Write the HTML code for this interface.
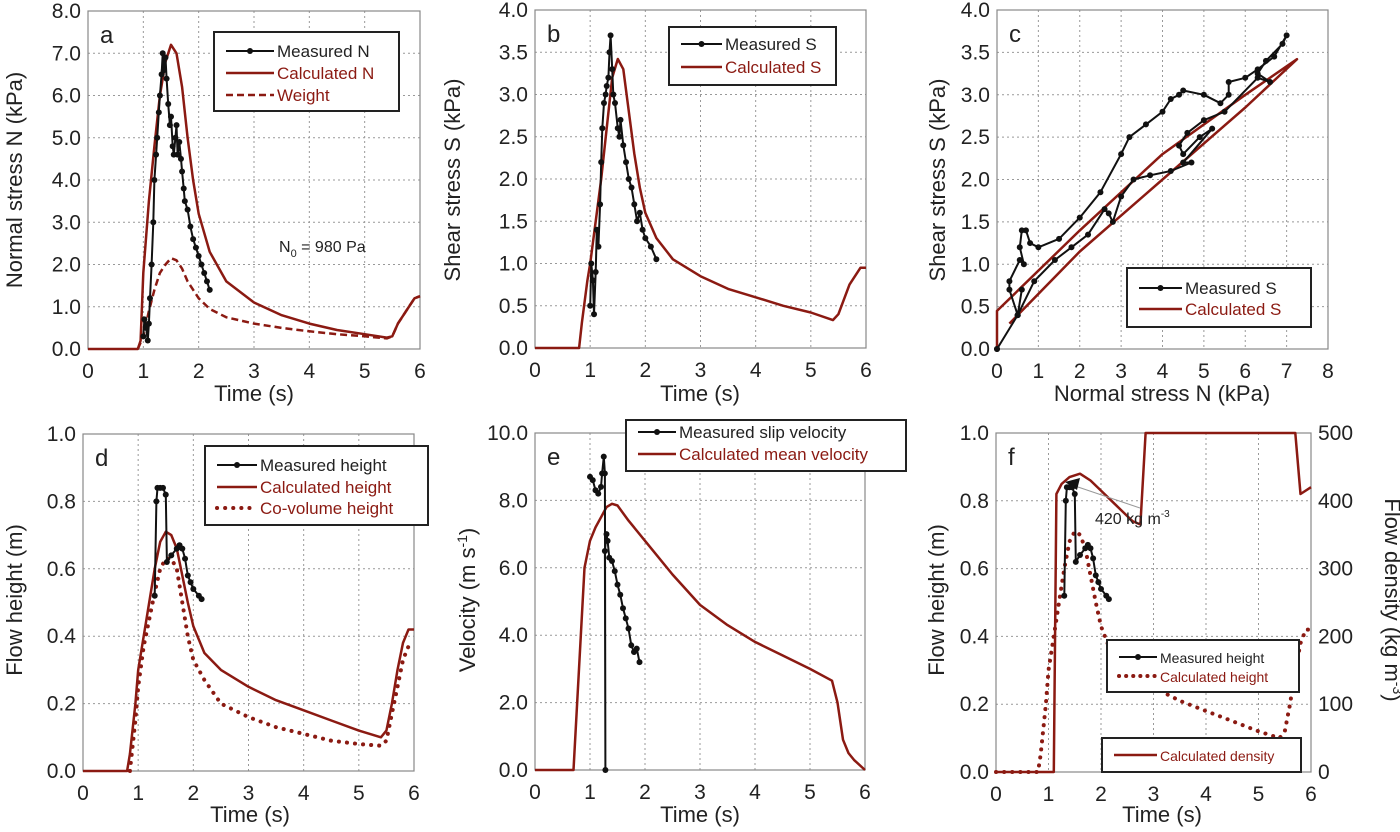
<!DOCTYPE html>
<html><head><meta charset="utf-8"><style>
body{margin:0;background:#fff;}
svg{display:block;font-family:"Liberation Sans",sans-serif;}
</style></head><body>
<svg id="fig" width="1400" height="832" viewBox="0 0 1400 832" xmlns="http://www.w3.org/2000/svg"></svg>
<script>
const RED='#8b1a12';
// ---- data ----
const aCalcT=[0,0.9,0.95,1.0,1.1,1.2,1.3,1.4,1.5,1.6,1.7,1.8,1.9,2.0,2.2,2.5,3.0,3.5,4.0,4.5,5.0,5.4,5.5,5.6,5.8,5.9,6.0];
const aCalcN=[0,0,0.2,1.8,3.5,4.8,6.0,6.8,7.2,7.0,6.2,5.0,4.0,3.2,2.3,1.6,1.1,0.8,0.6,0.45,0.35,0.27,0.3,0.6,1.0,1.2,1.25];
const aWT=[0.9,1.0,1.1,1.2,1.3,1.4,1.5,1.6,1.7,1.8,2.0,2.2,2.5,3.0,3.5,4.0,4.5,5.0,5.4,5.5,5.6,5.8,5.9,6.0];
const aW=[0,0.3,0.9,1.4,1.8,2.0,2.15,2.1,1.9,1.6,1.2,0.95,0.75,0.6,0.5,0.42,0.35,0.3,0.25,0.3,0.6,1.0,1.2,1.25];
const aMT=[1.0,1.02,1.05,1.08,1.1,1.12,1.15,1.18,1.2,1.23,1.25,1.28,1.3,1.33,1.35,1.37,1.4,1.42,1.45,1.48,1.5,1.53,1.55,1.58,1.6,1.62,1.65,1.68,1.7,1.73,1.75,1.8,1.85,1.9,1.95,2.0,2.05,2.1,2.15,2.2];
const aMN=[0.3,0.7,0.5,0.2,0.6,1.2,2.0,3.0,4.0,4.6,5.0,5.6,6.0,6.5,7.0,6.6,6.9,6.4,5.8,5.3,5.5,4.8,4.6,5.0,5.3,4.6,4.9,4.5,4.2,3.8,3.5,3.3,2.9,2.6,2.4,2.2,2.0,1.8,1.6,1.4];
const bCalcT=[0,0.8,0.85,0.95,1.0,1.1,1.2,1.3,1.4,1.5,1.6,1.7,1.8,1.9,2.0,2.2,2.5,3.0,3.5,4.0,4.5,5.0,5.4,5.5,5.7,5.9,6.0];
const bCalcS=[0,0,0.3,0.8,1.0,1.5,2.0,2.6,3.2,3.42,3.3,2.8,2.3,1.9,1.6,1.3,1.05,0.85,0.7,0.6,0.5,0.42,0.33,0.4,0.75,0.95,0.95];
const bMT=[1.0,1.02,1.05,1.07,1.1,1.12,1.15,1.18,1.2,1.22,1.25,1.28,1.3,1.33,1.35,1.37,1.4,1.42,1.45,1.5,1.53,1.55,1.6,1.65,1.7,1.75,1.8,1.85,1.9,1.95,2.0,2.1,2.2];
const bMS=[0.5,1.0,0.8,0.4,0.9,1.4,1.2,1.7,2.2,2.6,2.9,3.0,3.1,3.2,3.5,3.7,3.3,3.0,2.9,2.6,2.5,2.7,2.4,2.2,2.0,1.9,1.7,1.5,1.6,1.4,1.3,1.2,1.05];
const cCalcN=[0,0,2,4,6,7.25,6,4,2,0.3];
const cCalcS=[0,0.45,1.4,2.3,3.0,3.42,2.85,2.0,1.15,0.3];
const cMN=[0,0.5,0.6,0.5,0.3,0.3,0.55,0.65,0.55,0.6,0.7,0.8,1.0,1.5,2.0,2.5,3.0,3.2,3.6,4.0,4.2,4.4,4.5,5.0,5.4,5.6,5.6,6.0,6.3,6.7,7.0,6.9,6.5,6.3,6.6,6.3,5.5,5.0,4.6,4.4,4.5,4.9,5.2,4.5,4.7,4.2,3.7,3.3,3.0,2.8,2.7,2.6,2.2,1.8,1.4,0.9,0.5,0];
const cMS=[0,0.4,0.7,0.4,0.7,0.8,1.05,1.0,1.2,1.4,1.4,1.25,1.2,1.3,1.55,1.85,2.3,2.5,2.65,2.8,2.95,3.0,3.05,3.0,2.9,3.0,3.15,3.2,3.3,3.45,3.7,3.6,3.4,3.25,3.15,3.2,2.8,2.7,2.55,2.4,2.3,2.5,2.6,2.2,2.2,2.1,2.05,2.0,1.8,1.5,1.6,1.65,1.35,1.2,1.05,0.8,0.4,0];
const dCalcT=[0,0.8,0.85,0.95,1.0,1.1,1.2,1.3,1.4,1.5,1.6,1.7,1.8,1.9,2.0,2.2,2.5,3.0,3.5,4.0,4.5,5.0,5.4,5.5,5.6,5.7,5.8,5.9,6.0];
const dCalcH=[0,0,0.05,0.2,0.3,0.4,0.5,0.6,0.68,0.71,0.7,0.66,0.58,0.5,0.43,0.35,0.3,0.25,0.21,0.18,0.15,0.12,0.1,0.12,0.2,0.3,0.38,0.42,0.42];
const dCoT=[0.85,0.95,1.0,1.1,1.2,1.3,1.4,1.5,1.6,1.7,1.8,1.9,2.0,2.2,2.5,3.0,3.5,4.0,4.5,5.0,5.4,5.5,5.6,5.7,5.8,5.9];
const dCoH=[0,0.15,0.25,0.37,0.45,0.53,0.6,0.63,0.63,0.6,0.5,0.4,0.33,0.27,0.2,0.16,0.13,0.11,0.09,0.08,0.075,0.09,0.17,0.25,0.33,0.37];
const dMT=[1.3,1.33,1.35,1.4,1.45,1.5,1.52,1.6,1.7,1.75,1.8,1.85,1.9,1.95,2.0,2.1,2.15];
const dMH=[0.52,0.8,0.84,0.84,0.84,0.82,0.62,0.64,0.66,0.67,0.66,0.63,0.58,0.56,0.54,0.52,0.51];
const eCalcT=[0,0.7,0.8,0.9,1.0,1.1,1.2,1.3,1.4,1.5,1.7,2.0,2.5,3.0,3.5,4.0,4.5,5.0,5.4,5.5,5.6,5.7,5.8,6.0];
const eCalcV=[0,0,3.0,6.0,6.8,7.2,7.5,7.8,7.9,7.85,7.4,6.8,5.8,4.9,4.3,3.8,3.4,3.0,2.65,2.0,0.9,0.5,0.3,0];
const eMT=[1.0,1.05,1.1,1.15,1.2,1.22,1.25,1.27,1.28,1.27,1.3,1.32,1.35,1.4,1.45,1.5,1.55,1.6,1.65,1.7,1.75,1.8,1.85,1.9];
const eMV=[8.7,8.6,8.3,8.2,8.4,8.8,9.3,8.8,0,6.5,7.0,6.8,6.3,6.2,5.9,5.5,5.2,4.8,4.5,4.2,3.7,3.5,3.6,3.2];
const fDenT=[0,1.1,1.15,1.25,1.4,1.6,1.8,2.0,2.2,2.4,2.6,2.75,2.85,5.7,5.8,6.0];
const fDen=[0,0,410,425,435,440,430,415,400,385,370,365,500,500,410,420];
const timeTicks=[0,1,2,3,4,5,6];

const svg=document.getElementById('fig');
const NS='http://www.w3.org/2000/svg';
function el(tag,attrs,parent,text){const e=document.createElementNS(NS,tag);for(const k in attrs)e.setAttribute(k,attrs[k]);if(text!==undefined)e.textContent=text;(parent||svg).appendChild(e);return e;}

function panel(id,L,R,T,B,xmin,xmax,ymin,ymax,xticks,yticks,ydec,letter){
  const g=el('g',{},svg);
  
  
  const sx=v=>L+(v-xmin)/(xmax-xmin)*(R-L);
  const sy=v=>B-(v-ymin)/(ymax-ymin)*(B-T);
  xticks.forEach(v=>{if(v>xmin&&v<xmax)el('line',{x1:sx(v),x2:sx(v),y1:T,y2:B,stroke:'#999','stroke-width':1,'stroke-dasharray':'2,3'},g);});
  yticks.forEach(v=>{if(v>ymin&&v<ymax)el('line',{x1:L,x2:R,y1:sy(v),y2:sy(v),stroke:'#999','stroke-width':1,'stroke-dasharray':'2,3'},g);});
  const fr=el('rect',{x:L,y:T,width:R-L,height:B-T,fill:'none',stroke:'#888','stroke-width':1.2},g);
  
  
  xticks.forEach(v=>{const t=el('text',{x:sx(v),y:B+29,'text-anchor':'middle','font-size':21,fill:'#222'},g,String(v));
    
    });
  if(yticks)yticks.forEach(v=>{const t=el('text',{x:L-7,y:sy(v)+7,'text-anchor':'end','font-size':21,fill:'#222'},g,v.toFixed(ydec));
    
    });
  const lt=el('text',{x:L+12,y:T+32,'font-size':24,fill:'#222'},g,letter);
  
  
  return {g,sx,sy};
}
function line(p,xs,ys,opts,name){
  const d=xs.map((x,i)=>(i?'L':'M')+p.sx(x).toFixed(1)+','+p.sy(ys[i]).toFixed(1)).join('');
  const e=el('path',{d,fill:'none',stroke:opts.color,'stroke-width':opts.w||2.5,'stroke-dasharray':opts.dash||'none','stroke-linejoin':'round','stroke-linecap':opts.cap||'butt'},p.g);
  
  
  if(opts.dots){xs.forEach((x,i)=>{const c=el('circle',{cx:p.sx(x),cy:p.sy(ys[i]),r:3,fill:'#111'},p.g);
    
    });}
}
function ytitle(x,y,txt,name,rot){const t=el('text',{x,y,'text-anchor':'middle','font-size':22,fill:'#222',transform:'rotate('+(rot||-90)+' '+x+' '+y+')'},svg);t.innerHTML=txt;
  
  }
function xtitle(x,y,txt,name){const t=el('text',{x,y,'text-anchor':'middle','font-size':22,fill:'#222'},svg,txt);
  
  }
function legend(name,x,y,w,h,items,fs){
  const g=el('g',{},svg);
  
  
  el('rect',{x,y,width:w,height:h,fill:'#fff',stroke:'#222','stroke-width':2},g);
  items.forEach((it,i)=>{
    const yy=it.y;
    el('line',{x1:x+12,x2:x+it.lx,y1:yy,y2:yy,stroke:it.color,'stroke-width':it.w||2.5,'stroke-dasharray':it.dash||'none','stroke-linecap':it.cap||'butt'},g);
    if(it.dot)el('circle',{cx:x+(12+it.lx)/2,cy:yy,r:3,fill:'#111'},g);
    const t=el('text',{x:x+it.lx+3,y:yy+6,'font-size':fs||17,fill:it.tc},g,it.label);
    
    
  });
}

// Panel a
const yA=[0,1,2,3,4,5,6,7,8];
const pa=panel('a',88,420,11,349,0,6,0,8,timeTicks,yA,1,'a');
line(pa,aWT,aW,{color:RED,dash:'7,4'},'weight-line');
line(pa,aCalcT,aCalcN,{color:RED},'calculated-n-line');
line(pa,aMT,aMN,{color:'#111',w:2,dots:true},'measured-n-line');
const n0=el('text',{x:279,y:252,'font-size':16,fill:'#222'},svg);n0.innerHTML='N<tspan font-size="11" dy="5">0</tspan><tspan dy="-5"> = 980 Pa</tspan>';


ytitle(22,180,'Normal stress N (kPa)','y-axis-title-a');
xtitle(254,401,'Time (s)','x-axis-title-a');
legend('legend-a',214,32,185,79,[{y:51,lx:60,color:'#111',dot:true,w:2,label:'Measured N',tc:'#222'},{y:73,lx:60,color:RED,label:'Calculated N',tc:RED},{y:95,lx:60,color:RED,dash:'7,4',label:'Weight',tc:RED}]);

// Panel b
const yB=[0,0.5,1,1.5,2,2.5,3,3.5,4];
const pb=panel('b',535,866,10,348,0,6,0,4,timeTicks,yB,1,'b');
line(pb,bCalcT,bCalcS,{color:RED},'calculated-s-line');
line(pb,bMT,bMS,{color:'#111',w:2,dots:true},'measured-s-line');
ytitle(460,180,'Shear stress S (kPa)','y-axis-title-b');
xtitle(700,401,'Time (s)','x-axis-title-b');
legend('legend-b',669,27,167,58,[{y:44,lx:53,color:'#111',dot:true,w:2,label:'Measured S',tc:'#222'},{y:67,lx:53,color:RED,label:'Calculated S',tc:RED}]);

// Panel c
const xC=[0,1,2,3,4,5,6,7,8];
const pc=panel('c',997,1328,10,349,0,8,0,4,xC,yB,1,'c');
line(pc,cCalcN,cCalcS,{color:RED},'calculated-s-vs-n-line');
line(pc,cMN,cMS,{color:'#111',w:2,dots:true},'measured-s-vs-n-line');
ytitle(945,180,'Shear stress S (kPa)','y-axis-title-c');
xtitle(1162,401,'Normal stress N (kPa)','x-axis-title-c');
legend('legend-c',1127,268,184,59,[{y:288,lx:55,color:'#111',dot:true,w:2,label:'Measured S',tc:'#222'},{y:309,lx:55,color:RED,label:'Calculated S',tc:RED}]);

// Panel d
const yD=[0,0.2,0.4,0.6,0.8,1.0];
const pd=panel('d',83,414,434,771,0,6,0,1,timeTicks,yD,1,'d');
line(pd,dCoT,dCoH,{color:RED,dash:'0.1,8',w:4,cap:'round'},'co-volume-height-line');
line(pd,dCalcT,dCalcH,{color:RED},'calculated-height-line');
line(pd,dMT,dMH,{color:'#111',w:2,dots:true},'measured-height-line');
ytitle(22,600,'Flow height (m)','y-axis-title-d');
xtitle(250,822,'Time (s)','x-axis-title-d');
legend('legend-d',205,446,223,79,[{y:465,lx:52,color:'#111',dot:true,w:2,label:'Measured height',tc:'#222'},{y:487,lx:52,color:RED,label:'Calculated height',tc:RED},{y:508,lx:52,color:RED,dash:'0.1,8',w:4,cap:'round',label:'Co-volume height',tc:RED}]);

// Panel e
const yE=[0,2,4,6,8,10];
const pe=panel('e',535,865,433,770,0,6,0,10,timeTicks,yE,1,'e');
line(pe,eCalcT,eCalcV,{color:RED},'calculated-mean-velocity-line');
line(pe,eMT,eMV,{color:'#111',w:2,dots:true},'measured-slip-velocity-line');
ytitle(475,600,'Velocity (m s<tspan font-size="14" dy="-8">-1</tspan><tspan dy="8">)</tspan>','y-axis-title-e');
xtitle(700,822,'Time (s)','x-axis-title-e');
legend('legend-e',626,420,280,51,[{y:432,lx:50,color:'#111',dot:true,w:2,label:'Measured slip velocity',tc:'#222'},{y:454,lx:50,color:RED,label:'Calculated mean velocity',tc:RED}]);

// Panel f
const yF2=[0,100,200,300,400,500];
const pf=panel('f',996,1311,433,772,0,6,0,1,timeTicks,yD,1,'f');
const pf2={g:pf.g,sx:pf.sx,sy:v=>772-v/500*(772-433)};
yF2.forEach(v=>{const t=el('text',{x:1318,y:pf2.sy(v)+7,'font-size':21,fill:'#222'},svg,String(v));
  
  });
line(pf,dCalcT,dCalcH,{color:RED,dash:'0.1,8',w:4,cap:'round'},'calculated-height-dotted-line');
line(pf2,fDenT,fDen,{color:RED},'calculated-density-line');
line(pf,dMT,dMH,{color:'#111',w:2,dots:true},'measured-height-line-f');
el('line',{x1:1075,y1:486,x2:1140,y2:508,stroke:'#999','stroke-width':1});
el('polygon',{points:'1065,482 1080,478 1077,490',fill:'#111'});
const an=el('text',{x:1095,y:524,'font-size':16,fill:'#222'},svg);an.innerHTML='420 kg m<tspan font-size="10" dy="-7">-3</tspan>';


ytitle(944,600,'Flow height (m)','y-axis-title-f');
ytitle(1385,600,'Flow density (kg m<tspan font-size="14" dy="-8">-3</tspan><tspan dy="8">)</tspan>','y2-axis-title-f',90);
xtitle(1162,822,'Time (s)','x-axis-title-f');
legend('legend-f-height',1107,640,192,52,[{y:657,lx:50,color:'#111',dot:true,w:2,label:'Measured height',tc:'#222'},{y:676,lx:50,color:RED,dash:'0.1,7',w:4,cap:'round',label:'Calculated height',tc:RED}],14);
legend('legend-f-density',1102,738,199,34,[{y:755,lx:55,color:RED,label:'Calculated density',tc:RED}],14);
</script>
</body></html>
